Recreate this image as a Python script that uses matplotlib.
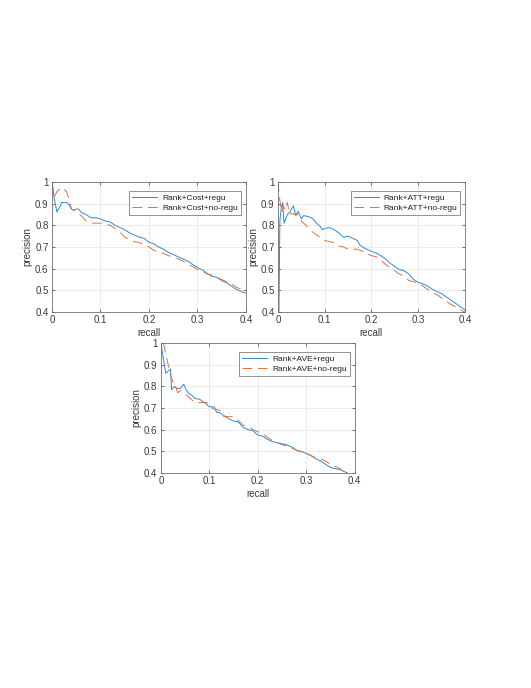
import numpy as np
import matplotlib
matplotlib.use('Agg')
import matplotlib.pyplot as plt

plt.rcParams['font.family'] = ['Liberation Sans', 'DejaVu Sans']

# Rank+Cost
cost_regu_x = [0.0, 0.004, 0.01, 0.015, 0.02, 0.03, 0.035, 0.04, 0.045, 0.05, 0.055, 0.06, 0.07, 0.08, 0.09,
               0.1, 0.11, 0.12, 0.13, 0.14, 0.15, 0.16, 0.17, 0.18, 0.19, 0.2, 0.21, 0.22, 0.23, 0.24,
               0.25, 0.26, 0.27, 0.28, 0.29, 0.3, 0.31, 0.32, 0.33, 0.34, 0.35, 0.36, 0.37, 0.38, 0.39, 0.4]
cost_regu_y = [1.0, 0.93, 0.862, 0.88, 0.905, 0.905, 0.895, 0.875, 0.87, 0.875, 0.875, 0.86, 0.85, 0.835, 0.835,
               0.83, 0.82, 0.815, 0.80, 0.79, 0.78, 0.765, 0.755, 0.745, 0.74, 0.722, 0.715, 0.70, 0.69, 0.675,
               0.665, 0.655, 0.645, 0.635, 0.62, 0.605, 0.595, 0.578, 0.565, 0.56, 0.545, 0.535, 0.52, 0.505, 0.495, 0.487]
cost_noregu_x = [0.0, 0.004, 0.01, 0.02, 0.03, 0.035, 0.04, 0.05, 0.06, 0.07, 0.08, 0.1, 0.12, 0.13, 0.14,
                 0.15, 0.16, 0.17, 0.18, 0.19, 0.2, 0.21, 0.22, 0.23, 0.24, 0.25, 0.26, 0.27, 0.28, 0.29,
                 0.3, 0.31, 0.32, 0.33, 0.34, 0.35, 0.36, 0.37, 0.38, 0.39, 0.4]
cost_noregu_y = [1.0, 0.93, 0.955, 0.975, 0.955, 0.92, 0.875, 0.86, 0.845, 0.82, 0.81, 0.81, 0.80, 0.785, 0.77,
                 0.745, 0.735, 0.725, 0.72, 0.71, 0.70, 0.685, 0.675, 0.67, 0.66, 0.655, 0.645, 0.635, 0.62, 0.61,
                 0.595, 0.59, 0.575, 0.57, 0.56, 0.55, 0.54, 0.53, 0.515, 0.505, 0.497]

# Rank+ATT
att_regu_x = [0.002, 0.003, 0.004, 0.007, 0.01, 0.013, 0.02, 0.025, 0.033, 0.038, 0.043, 0.05, 0.055, 0.065,
              0.075, 0.08, 0.09, 0.095, 0.1, 0.11, 0.12, 0.13, 0.14, 0.15, 0.16, 0.17, 0.175, 0.185, 0.195,
              0.2, 0.21, 0.22, 0.23, 0.24, 0.25, 0.26, 0.27, 0.28, 0.29, 0.3, 0.31, 0.32, 0.33, 0.34, 0.35,
              0.36, 0.37, 0.38, 0.39, 0.4]
att_regu_y = [0.4, 0.6, 0.82, 0.88, 0.905, 0.81, 0.85, 0.86, 0.89, 0.845, 0.865, 0.83, 0.845, 0.84,
              0.83, 0.815, 0.795, 0.78, 0.785, 0.79, 0.78, 0.765, 0.745, 0.75, 0.74, 0.73, 0.71, 0.695, 0.685,
              0.68, 0.672, 0.66, 0.645, 0.625, 0.61, 0.595, 0.59, 0.575, 0.55, 0.537, 0.53, 0.52, 0.505, 0.495, 0.485,
              0.47, 0.455, 0.44, 0.425, 0.41]
att_noregu_x = [0.0, 0.003, 0.008, 0.012, 0.015, 0.02, 0.025, 0.03, 0.035, 0.04, 0.05, 0.06, 0.07, 0.08,
                0.09, 0.1, 0.11, 0.12, 0.13, 0.14, 0.15, 0.16, 0.17, 0.18, 0.19, 0.2, 0.21, 0.22, 0.23, 0.24,
                0.25, 0.26, 0.27, 0.28, 0.29, 0.3, 0.31, 0.32, 0.33, 0.34, 0.35, 0.36, 0.37, 0.38, 0.39, 0.4]
att_noregu_y = [1.0, 0.93, 0.86, 0.89, 0.87, 0.905, 0.85, 0.855, 0.85, 0.855, 0.82, 0.80, 0.775, 0.76,
                0.745, 0.73, 0.725, 0.72, 0.705, 0.70, 0.69, 0.69, 0.69, 0.68, 0.67, 0.66, 0.655, 0.64, 0.62, 0.605,
                0.59, 0.575, 0.565, 0.545, 0.54, 0.53, 0.52, 0.505, 0.49, 0.48, 0.465, 0.45, 0.435, 0.425, 0.41, 0.40]

# Rank+AVE
ave_regu_x = [0.0, 0.005, 0.01, 0.015, 0.02, 0.022, 0.028, 0.033, 0.04, 0.047, 0.052, 0.058, 0.063, 0.07,
              0.08, 0.09, 0.1, 0.11, 0.115, 0.12, 0.13, 0.14, 0.15, 0.16, 0.17, 0.18, 0.19, 0.2, 0.21, 0.22,
              0.23, 0.24, 0.25, 0.26, 0.27, 0.28, 0.29, 0.3, 0.31, 0.32, 0.33, 0.34, 0.35, 0.36, 0.37, 0.38, 0.385]
ave_regu_y = [1.0, 0.93, 0.86, 0.87, 0.88, 0.785, 0.80, 0.79, 0.79, 0.81, 0.785, 0.765, 0.76, 0.745,
              0.74, 0.725, 0.705, 0.705, 0.68, 0.68, 0.665, 0.65, 0.64, 0.635, 0.61, 0.60, 0.595, 0.575, 0.57, 0.555,
              0.545, 0.54, 0.535, 0.53, 0.52, 0.505, 0.50, 0.49, 0.48, 0.465, 0.455, 0.44, 0.425, 0.42, 0.415, 0.405, 0.40]
ave_noregu_x = [0.005, 0.01, 0.015, 0.02, 0.025, 0.03, 0.035, 0.04, 0.05, 0.06, 0.07, 0.08, 0.095, 0.1,
                0.11, 0.12, 0.125, 0.13, 0.15, 0.16, 0.17, 0.18, 0.19, 0.2, 0.21, 0.22, 0.23, 0.24, 0.25, 0.26,
                0.27, 0.28, 0.29, 0.3, 0.31, 0.32, 0.33, 0.34, 0.35, 0.36, 0.37, 0.375, 0.385]
ave_noregu_y = [1.0, 0.95, 0.90, 0.85, 0.82, 0.80, 0.77, 0.78, 0.765, 0.745, 0.725, 0.725, 0.725, 0.705,
                0.695, 0.69, 0.68, 0.66, 0.66, 0.64, 0.62, 0.615, 0.60, 0.59, 0.58, 0.565, 0.55, 0.54, 0.53, 0.525,
                0.515, 0.505, 0.495, 0.49, 0.48, 0.47, 0.465, 0.455, 0.44, 0.43, 0.42, 0.41, 0.40]

BLUE = '#2E8BCF'
ORANGE = '#E2703F'
AXCOL = '#3a3a3a'

panels = [
    ([0.098, 0.5465, 0.365, 0.189], cost_regu_x, cost_regu_y, cost_noregu_x, cost_noregu_y, 'Rank+Cost'),
    ([0.5235, 0.5465, 0.352, 0.189], att_regu_x, att_regu_y, att_noregu_x, att_noregu_y, 'Rank+ATT'),
    ([0.303, 0.3125, 0.365, 0.189], ave_regu_x, ave_regu_y, ave_noregu_x, ave_noregu_y, 'Rank+AVE'),
]

fig = plt.figure(figsize=(5.31, 6.88), dpi=100)

for rect, rx, ry, nx, ny, name in panels:
    ax = fig.add_axes(rect)
    ax.plot(rx, ry, color=BLUE, lw=0.7, label=name + '+regu')
    ax.plot(nx, ny, color=ORANGE, lw=0.7, ls=(0, (10, 6)), label=name + '+no-regu')
    ax.set_xlim(0, 0.4)
    ax.set_ylim(0.4, 1.0)
    ax.set_xticks([0, 0.1, 0.2, 0.3, 0.4])
    ax.set_xticklabels(['0', '0.1', '0.2', '0.3', '0.4'])
    ax.set_yticks([0.4, 0.5, 0.6, 0.7, 0.8, 0.9, 1.0])
    ax.set_yticklabels(['0.4', '0.5', '0.6', '0.7', '0.8', '0.9', '1'])
    ax.grid(True, color='#e3e3e3', lw=0.5)
    ax.set_axisbelow(True)
    ax.tick_params(direction='in', length=2, width=0.5, labelsize=7, colors=AXCOL, pad=2.5,
                   top=True, right=True)
    for s in ax.spines.values():
        s.set_color('#707070')
        s.set_linewidth(0.6)
    ax.set_xlabel('recall', fontsize=7, color=AXCOL, labelpad=2)
    ax.set_ylabel('precision', fontsize=7, color=AXCOL, labelpad=2)
    leg = ax.legend(loc='upper right', fontsize=6, frameon=True, fancybox=False,
                    handlelength=3.0, handletextpad=0.6, borderpad=0.35, labelspacing=0.25,
                    borderaxespad=0, bbox_to_anchor=(0.975, 0.93))
    leg.get_frame().set_edgecolor('#404040')
    leg.get_frame().set_linewidth(0.5)
    for t in leg.get_texts():
        t.set_color('#202020')

fig.savefig('out.png', dpi=100)
